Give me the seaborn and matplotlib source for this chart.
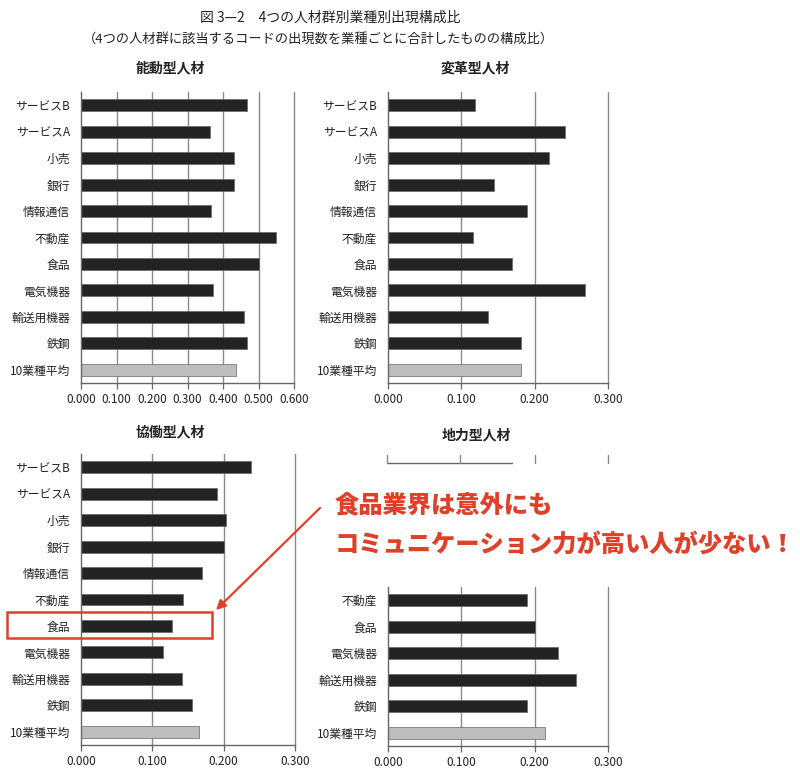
import matplotlib
matplotlib.use("Agg")
import matplotlib.pyplot as plt
import seaborn as sns
import pandas as pd
from matplotlib.lines import Line2D
from matplotlib.patches import Rectangle, FancyArrowPatch

sns.set_theme(style="white")
plt.rcParams['font.family'] = ['Noto Sans CJK JP', 'DejaVu Sans']

categories = ["サービスB", "サービスA", "小売", "銀行", "情報通信", "不動産",
              "食品", "電気機器", "輸送用機器", "鉄鋼", "10業種平均"]
noudou = [0.468, 0.363, 0.430, 0.430, 0.365, 0.548, 0.500, 0.373, 0.459, 0.468, 0.438]
henkaku = [0.119, 0.241, 0.219, 0.144, 0.190, 0.116, 0.169, 0.269, 0.137, 0.181, 0.181]
kyoudou = [0.239, 0.191, 0.203, 0.200, 0.170, 0.143, 0.128, 0.115, 0.141, 0.156, 0.166]
chiryoku_cats = ["不動産", "食品", "電気機器", "輸送用機器", "鉄鋼", "10業種平均"]
chiryoku = [0.190, 0.200, 0.232, 0.257, 0.190, 0.214]

panel_titles = ["能動型人材", "変革型人材", "協働型人材", "地力型人材"]
x_ticks_a = [0.0, 0.1, 0.2, 0.3, 0.4, 0.5, 0.6]
x_ticks_b = [0.0, 0.1, 0.2, 0.3]

BAR = "#232323"
AVG = "#bdbdbf"
GRID = "#8a8a8a"
SPINE = "#666666"
RED = "#e0402a"

W, H = 800, 776
fig = plt.figure(figsize=(W / 100, H / 100), dpi=100)


def px_axes(x0, y0, x1, y1):
    return fig.add_axes([x0 / W, 1 - y1 / H, (x1 - x0) / W, (y1 - y0) / H])


def draw_panel(ax, cats, vals, ticks):
    colors = [AVG if c == "10業種平均" else BAR for c in cats]
    df = pd.DataFrame({"cat": cats, "val": vals})
    sns.barplot(data=df, x="val", y="cat", hue="cat", palette=colors,
                legend=False, width=0.45, orient="h", ax=ax,
                edgecolor="#666666", linewidth=0.5, saturation=1)
    ax.set_xlim(ticks[0], ticks[-1])
    ax.set_ylim(len(cats) - 0.5, -0.5)
    ax.set_xticks(ticks)
    ax.set_xticklabels([f"{t:.3f}" for t in ticks], fontsize=8.5, color="#222222")
    ax.set_yticks(range(len(cats)))
    ax.set_yticklabels(cats, fontsize=8.5, color="#222222")
    ax.set_yticks([i - 0.5 for i in range(len(cats) + 1)], minor=True)
    ax.tick_params(axis="y", which="major", length=0, pad=8)
    ax.tick_params(axis="y", which="minor", length=4, width=0.9, color=SPINE, direction="out")
    ax.tick_params(axis="x", which="major", length=4, width=0.9, color=SPINE, direction="out",
                   pad=3, bottom=True)
    ax.set_xlabel("")
    ax.set_ylabel("")
    for t in ticks[1:]:
        ax.axvline(t, color=GRID, lw=1.0, zorder=0, clip_on=False)
    for s in ["top", "right"]:
        ax.spines[s].set_visible(False)
    for s in ["left", "bottom"]:
        ax.spines[s].set_color(SPINE)
        ax.spines[s].set_linewidth(1.0)


ax1 = px_axes(81, 92, 294, 383)
draw_panel(ax1, categories, noudou, x_ticks_a)
ax2 = px_axes(388, 92, 608, 383)
draw_panel(ax2, categories, henkaku, x_ticks_b)
ax3 = px_axes(81, 454, 295, 745)
draw_panel(ax3, categories, kyoudou, x_ticks_b)
ax4 = px_axes(388, 587, 608, 746)
draw_panel(ax4, chiryoku_cats, chiryoku, x_ticks_b)

# Titles
fig.text(330 / W, 1 - 18 / H, "図 3—2　4つの人材群別業種別出現構成比",
         ha="center", va="center", fontsize=10, color="#222222")
fig.text(318 / W, 1 - 39 / H, "（4つの人材群に該当するコードの出現数を業種ごとに合計したものの構成比）",
         ha="center", va="center", fontsize=9.5, color="#222222")
for (x, y), t in zip([(170, 68), (475, 68), (170, 432), (476, 435)], panel_titles):
    fig.text(x / W, 1 - y / H, t, ha="center", va="center", fontsize=10,
             fontweight="bold", color="#222222")

# remnant of the covered upper part of the 4th panel
fig.add_artist(Line2D([387 / W, 512 / W], [1 - 463 / H, 1 - 463 / H], color=SPINE, lw=1.0))
for xp in [387, 460, 535, 608]:
    fig.add_artist(Line2D([xp / W, xp / W], [1 - 455 / H, 1 - 463 / H], color=GRID, lw=1.0))

# Annotation
fig.text(335 / W, 1 - 505 / H, "食品業界は意外にも", ha="left", va="center",
         fontsize=17.5, fontweight="black", color=RED)
fig.text(335 / W, 1 - 544 / H, "コミュニケーション力が高い人が少ない！", ha="left", va="center",
         fontsize=17.5, fontweight="black", color=RED)
fig.add_artist(Rectangle((7 / W, 1 - 638 / H), (212 - 7) / W, (638 - 612) / H,
                         fill=False, edgecolor=RED, lw=1.8, transform=fig.transFigure))
fig.add_artist(FancyArrowPatch((322 / W, 1 - 506 / H), (214 / W, 1 - 612 / H),
                               transform=fig.transFigure, arrowstyle="-|>",
                               mutation_scale=14, color=RED, lw=1.6))

fig.savefig("out.png", dpi=100, facecolor="white")
